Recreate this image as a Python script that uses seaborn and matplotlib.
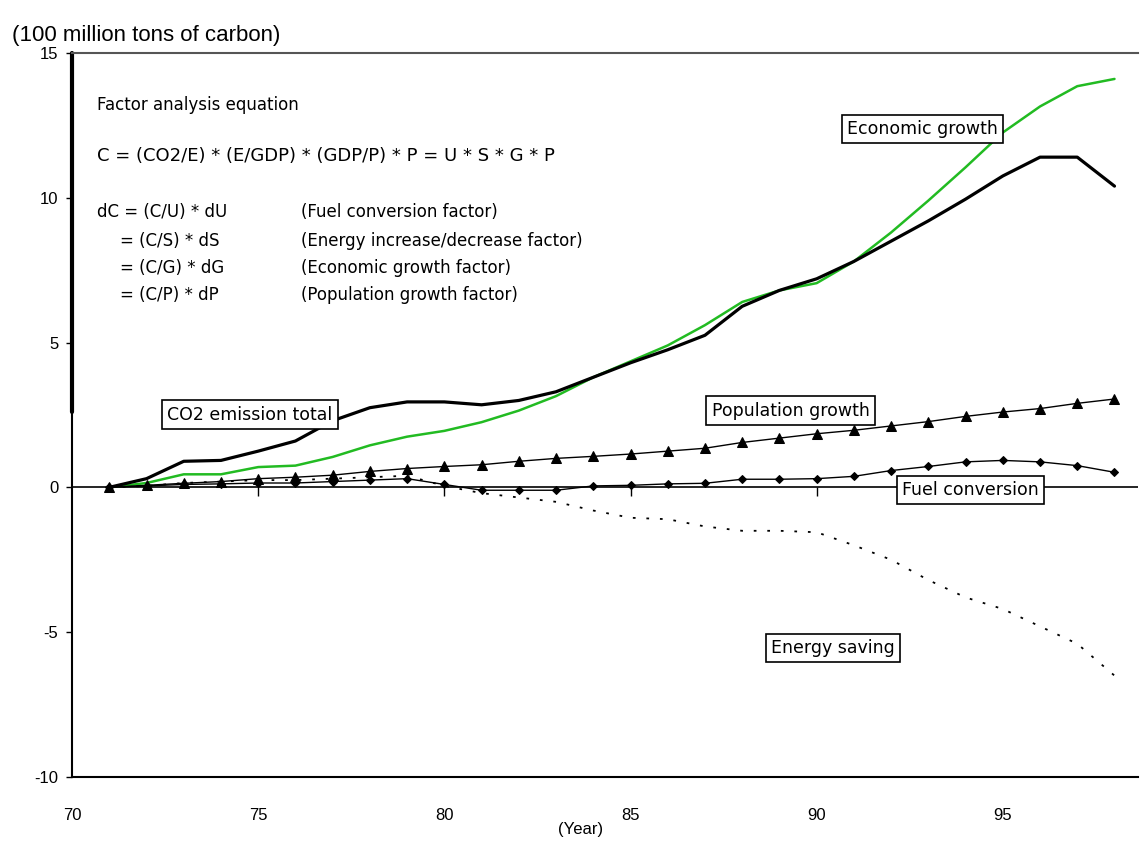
import numpy as np
import pandas as pd
import seaborn as sns
import matplotlib.pyplot as plt

# Data (100 million tons of carbon)
years = list(range(71, 99))
co2_total = [0, 0.3, 0.9, 0.93, 1.25, 1.6, 2.3, 2.75, 2.95, 2.95, 2.85, 3.0, 3.3, 3.8,
             4.3, 4.75, 5.25, 6.25, 6.8, 7.2, 7.8, 8.5, 9.2, 9.95, 10.75, 11.4, 11.4, 10.4]
economic = [0, 0.15, 0.45, 0.45, 0.7, 0.75, 1.05, 1.45, 1.75, 1.95, 2.25, 2.65, 3.15, 3.8,
            4.35, 4.9, 5.6, 6.4, 6.8, 7.05, 7.8, 8.8, 9.9, 11.05, 12.25, 13.15, 13.85, 14.1]
population = [0, 0.07, 0.14, 0.2, 0.3, 0.35, 0.42, 0.55, 0.65, 0.72, 0.78, 0.9, 1.0, 1.07,
              1.15, 1.25, 1.35, 1.55, 1.7, 1.85, 1.97, 2.12, 2.27, 2.45, 2.6, 2.72, 2.9, 3.05]
fuel = [0, 0.05, 0.1, 0.12, 0.15, 0.15, 0.2, 0.25, 0.3, 0.1, -0.1, -0.1, -0.1, 0.05,
        0.07, 0.12, 0.14, 0.28, 0.28, 0.3, 0.38, 0.58, 0.72, 0.88, 0.93, 0.88, 0.75, 0.52]
energy_saving = [0, 0.05, 0.15, 0.2, 0.25, 0.25, 0.3, 0.35, 0.4, 0.05, -0.2, -0.35, -0.5, -0.8,
                 -1.05, -1.1, -1.35, -1.5, -1.5, -1.55, -2.0, -2.5, -3.2, -3.8, -4.2, -4.8, -5.4, -6.5]

xticks = [70, 75, 80, 85, 90, 95]
yticks = [-10, -5, 0, 5, 10, 15]

# label text and where it sits (data coords)
labels = ['CO2 emission total', 'Economic growth', 'Population growth', 'Fuel conversion', 'Energy saving']
label_x = [74.78, 92.85, 89.3, 94.14, 90.43]
label_y = [2.51, 12.38, 2.65, -0.1, -5.54]

eq_title = 'Factor analysis equation'
eq_main = 'C = (CO2/E) * (E/GDP) * (GDP/P) * P = U * S * G * P'
eq_left = ['dC = (C/U) * dU', '= (C/S) * dS', '= (C/G) * dG', '= (C/P) * dP']
eq_right = ['(Fuel conversion factor)', '(Energy increase/decrease factor)',
            '(Economic growth factor)', '(Population growth factor)']

df = pd.DataFrame({'year': years, 'co2': co2_total, 'econ': economic,
                   'pop': population, 'fuel': fuel, 'save': energy_saving})

sns.set_style('white')
plt.rcParams['font.family'] = ['Liberation Sans', 'DejaVu Sans']
plt.rcParams['axes.unicode_minus'] = False
for k in ['text.color', 'axes.labelcolor', 'xtick.color', 'ytick.color']:
    plt.rcParams[k] = 'black'
wide = 'DejaVu Sans'

fig = plt.figure(figsize=(11.4, 8.42), dpi=100)
ax = fig.add_axes([0.0632, 0.0772, 0.935, 0.860])

sns.lineplot(x='year', y='econ', data=df, ax=ax, color='#22bb22', lw=1.8)
sns.lineplot(x='year', y='co2', data=df, ax=ax, color='black', lw=2.3)
sns.lineplot(x='year', y='pop', data=df, ax=ax, color='black', lw=1,
             marker='^', markersize=7, markeredgecolor='black')
sns.lineplot(x='year', y='fuel', data=df, ax=ax, color='black', lw=1,
             marker='D', markersize=4.5, markeredgecolor='black')
sns.lineplot(x='year', y='save', data=df, ax=ax, color='black', lw=1.3,
             linestyle=(0, (1.5, 6)))

ax.set_xlim(70, 98.63)
ax.set_ylim(-10, 15)
ax.set_xticks(xticks)
ax.set_yticks(yticks)
ax.tick_params(axis='x', length=0, pad=22, labelsize=12)
ax.tick_params(axis='y', length=4, width=1, direction='out', left=True, pad=6, labelsize=12)

# zero line with its own small year ticks
ax.axhline(0, color='black', lw=1.2, zorder=1)
ax.vlines(xticks[1:], -0.3, 0, color='black', lw=1)

for s in ['bottom', 'left']:
    ax.spines[s].set_color('black')
    ax.spines[s].set_linewidth(1.5)
ax.spines['top'].set_color('#555555')
ax.spines['top'].set_linewidth(1.5)
ax.spines['right'].set_visible(False)
ax.axvline(70, ymin=(2.6 + 10) / 25, ymax=1, color='black', lw=3, clip_on=False)

ax.set_xlabel('(Year)', fontsize=12)
ax.xaxis.set_label_coords(0.477, -0.062)
ax.set_ylabel('(100 million tons of carbon)', fontsize=16, rotation=0, ha='left', va='bottom')
ax.yaxis.set_label_coords(-0.056, 1.01)

for txt, x, y in zip(labels, label_x, label_y):
    ax.text(x, y, txt, fontsize=12.5, family=wide, ha='center', va='center', zorder=5,
            bbox=dict(boxstyle='square,pad=0.3', fc='white', ec='black', lw=1.2))

ax.text(0.0235, 0.928, eq_title, transform=ax.transAxes, fontsize=12, family=wide, va='center')
ax.text(0.0235, 0.858, eq_main, transform=ax.transAxes, fontsize=13, family=wide, va='center')
eq_rows = [0.780, 0.740, 0.703, 0.666]
for i, (l, r, fy) in enumerate(zip(eq_left, eq_right, eq_rows)):
    ax.text(0.0235 if i == 0 else 0.045, fy, l, transform=ax.transAxes, fontsize=12,
            family=wide, va='center')
    ax.text(0.215, fy, r, transform=ax.transAxes, fontsize=12, family=wide, va='center')

plt.savefig('out.png', dpi=100)
